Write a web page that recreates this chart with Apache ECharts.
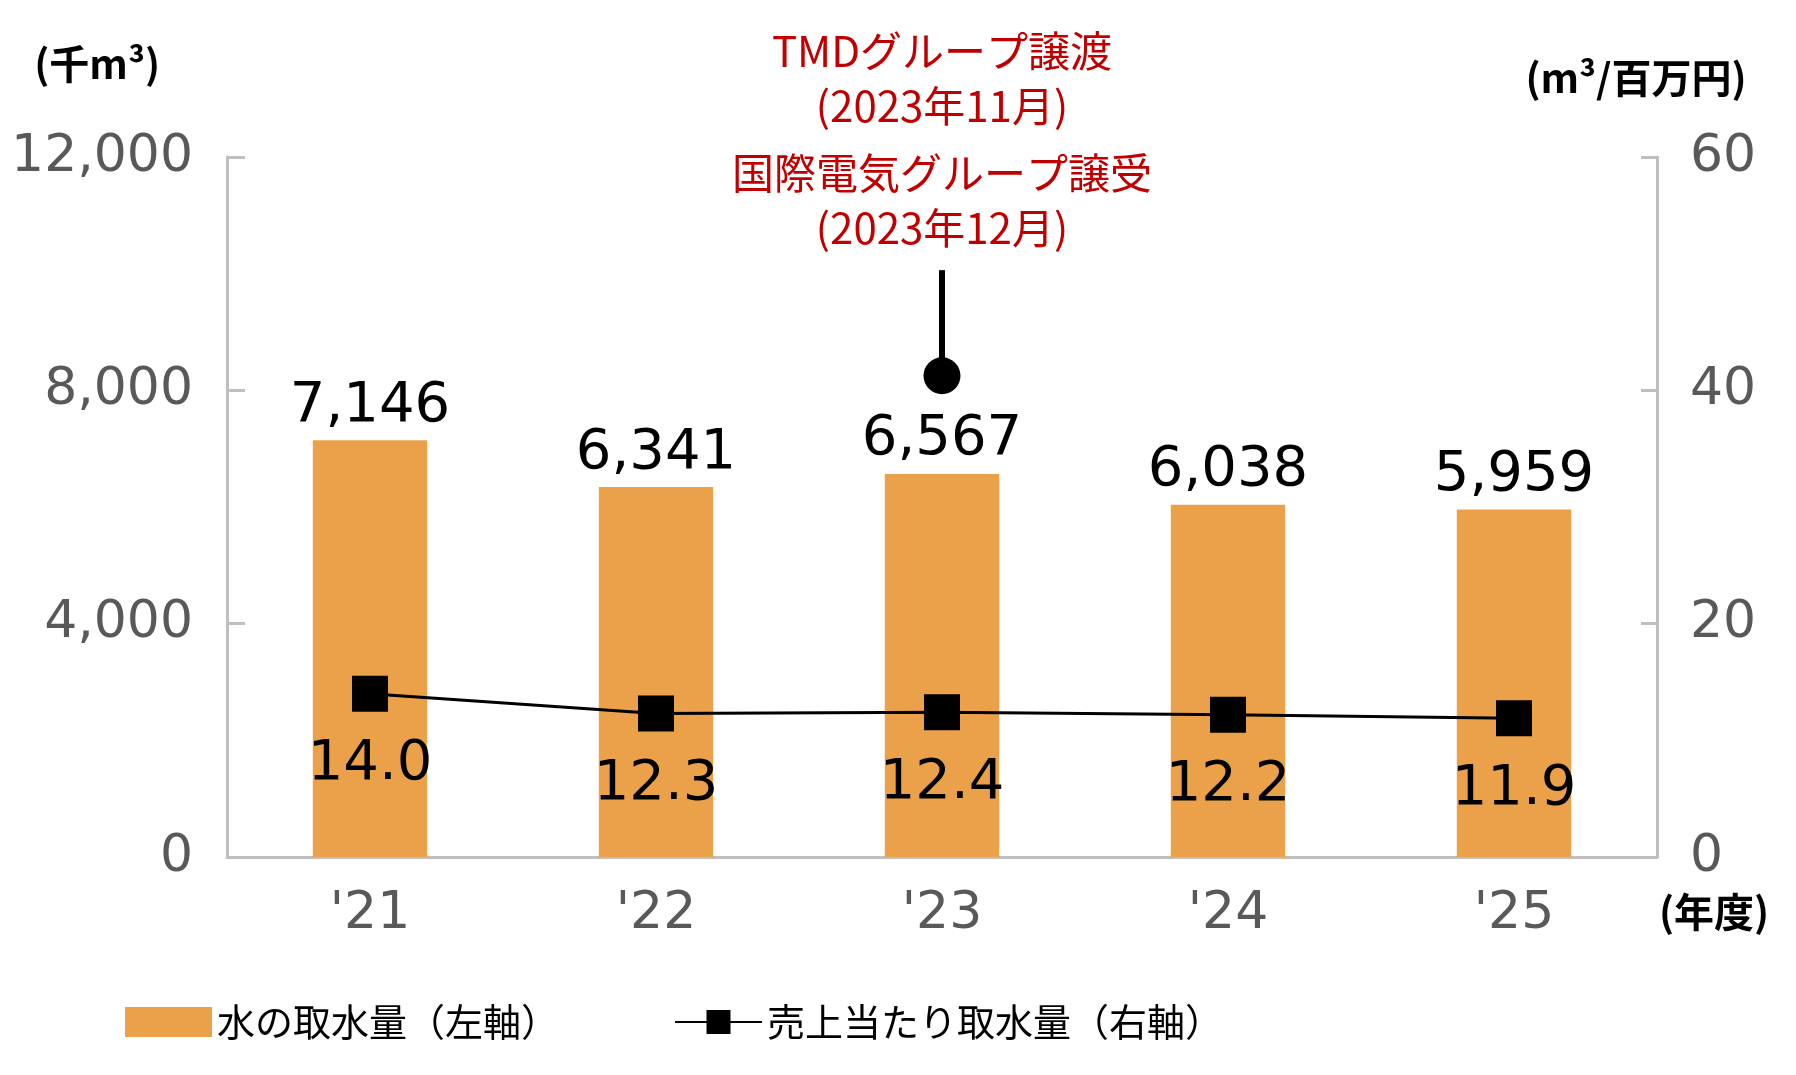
<!DOCTYPE html>
<html>
<head>
<meta charset="utf-8">
<script src="https://cdn.jsdelivr.net/npm/echarts@6/dist/echarts.min.js"></script>
<style>
  html, body { margin: 0; padding: 0; background: #fff; }
  #chart { width: 1796px; height: 1075px; }
</style>
</head>
<body>
<div id="chart"></div>
<script>
var years = ["'21", "'22", "'23", "'24", "'25"]
var waterIntake = [7146, 6341, 6567, 6038, 5959]
var intakePerSales = [14.0, 12.3, 12.4, 12.2, 11.9]
var leftTicks = { min: 0, max: 12000, interval: 4000 }
var rightTicks = { min: 0, max: 60, interval: 20 }
// 注記の線 ('23 の棒の上)
var noteYear = "'23"
var noteTop = 10060
var noteEnd = 8250
var noteLines = ['TMDグループ譲渡', '(2023年11月)', '国際電気グループ譲受', '(2023年12月)']

var legendBar = '水の取水量（左軸）'
var legendLine = '売上当たり取水量（右軸）'

var numFont = 'DejaVu Sans'
var jpFont = 'Noto Sans CJK JP'
var axisGrey = '#BFBFBF'
var labelGrey = '#595959'

var chart = echarts.init(document.getElementById('chart'))

function comma(v) {
  return Number(v).toLocaleString('en-US')
}

var options = {
  animation: false,
  grid: {
    left: 227,
    right: 139,
    top: 157,
    bottom: 218,
    outerBoundsMode: 'none'
  },
  legend: {
    left: 120,
    top: 998,
    itemWidth: 87,
    itemHeight: 30,
    itemGap: 115,
    textStyle: {
      fontFamily: jpFont,
      fontSize: 38,
      color: '#000'
    },
    data: [
      { name: legendBar, icon: 'rect' },
      { name: legendLine }
    ]
  },
  xAxis: {
    type: 'category',
    data: years,
    name: '(年度)',
    nameLocation: 'end',
    nameGap: 2,
    nameTextStyle: {
      fontFamily: jpFont,
      fontWeight: 'bold',
      fontSize: 40,
      color: '#000',
      align: 'left',
      verticalAlign: 'top',
      padding: [35, 0, 0, 0]
    },
    axisLine: { lineStyle: { color: axisGrey, width: 3 } },
    axisTick: {
      inside: true,
      length: 17,
      lineStyle: { color: axisGrey, width: 3 }
    },
    axisLabel: {
      margin: 31,
      fontFamily: numFont,
      fontSize: 52,
      color: labelGrey
    }
  },
  yAxis: [
    {
      type: 'value',
      min: leftTicks.min,
      max: leftTicks.max,
      interval: leftTicks.interval,
      name: '(千m³)',
      nameLocation: 'end',
      nameGap: 73,
      nameTextStyle: {
        fontFamily: jpFont,
        fontWeight: 'bold',
        fontSize: 40,
        color: '#000',
        align: 'right',
        padding: [0, 67, 0, 0]
      },
      axisLine: { show: true, lineStyle: { color: axisGrey, width: 3 } },
      axisTick: {
        show: true,
        inside: true,
        length: 18,
        lineStyle: { color: axisGrey, width: 3 }
      },
      splitLine: { show: false },
      axisLabel: {
        margin: 34,
        fontFamily: numFont,
        fontSize: 52,
        color: labelGrey,
        formatter: comma
      }
    },
    {
      type: 'value',
      min: rightTicks.min,
      max: rightTicks.max,
      interval: rightTicks.interval,
      name: '(m³/百万円)',
      nameLocation: 'end',
      nameGap: 59,
      nameTextStyle: {
        fontFamily: jpFont,
        fontWeight: 'bold',
        fontSize: 40,
        color: '#000',
        align: 'center',
        padding: [0, 42, 0, 0]
      },
      axisLine: { show: true, lineStyle: { color: axisGrey, width: 3 } },
      axisTick: {
        show: true,
        inside: true,
        length: 16,
        lineStyle: { color: axisGrey, width: 3 }
      },
      splitLine: { show: false },
      axisLabel: {
        margin: 33,
        fontFamily: numFont,
        fontSize: 52,
        color: labelGrey
      }
    }
  ],
  series: [
    {
      name: legendBar,
      type: 'bar',
      data: waterIntake,
      yAxisIndex: 0,
      barCategoryGap: '60%',
      itemStyle: { color: '#EBA04A' },
      label: {
        show: true,
        position: 'top',
        distance: 6,
        fontFamily: numFont,
        fontSize: 56,
        color: '#000',
        formatter: function (p) {
          return comma(p.value)
        }
      },
      markLine: {
        silent: true,
        symbol: ['none', 'circle'],
        symbolSize: 37,
        lineStyle: { color: '#000', width: 6, type: 'solid' },
        itemStyle: { color: '#000' },
        label: {
          show: true,
          position: 'start',
          distance: 15,
          color: '#C00000',
          fontFamily: jpFont,
          fontSize: 42,
          formatter: function () {
            return '{a|' + noteLines[0] + '}\n{a|' + noteLines[1] + '}\n{g| }\n{a|' +
              noteLines[2] + '}\n{a|' + noteLines[3] + '}'
          },
          rich: {
            a: { lineHeight: 55, fontSize: 42, color: '#C00000', fontFamily: jpFont },
            g: { lineHeight: 12, fontSize: 10 }
          }
        },
        data: [
          [
            { coord: [noteYear, noteTop] },
            { coord: [noteYear, noteEnd] }
          ]
        ]
      }
    },
    {
      name: legendLine,
      type: 'line',
      data: intakePerSales,
      yAxisIndex: 1,
      symbol: 'rect',
      symbolSize: 36,
      lineStyle: { color: '#000', width: 3 },
      itemStyle: { color: '#000' },
      label: {
        show: true,
        position: 'bottom',
        distance: 25,
        fontFamily: numFont,
        fontSize: 56,
        color: '#000',
        formatter: function (p) {
          return p.value.toFixed(1)
        }
      }
    }
  ]
}

chart.setOption(options)
</script>
</body>
</html>
